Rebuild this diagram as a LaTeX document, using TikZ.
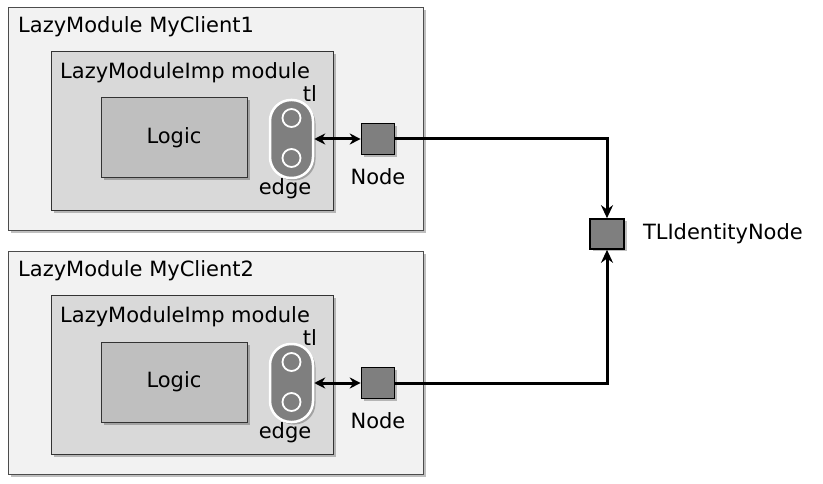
\documentclass[tikz,border=0pt]{standalone}
\usepackage{fontspec}
\setmainfont{DejaVu Sans}
\usepackage{tikz}
\usetikzlibrary{arrows.meta, positioning, shadows}
\definecolor{tlouter}{HTML}{F2F2F2}
\definecolor{tlinner}{HTML}{D9D9D9}
\definecolor{tllogic}{HTML}{BFBFBF}
\definecolor{tlnode}{HTML}{7F7F7F}

\begin{document}
\begin{tikzpicture}[
  x=1pt, y=-1pt,
  every node/.style={font=\fontsize{21pt}{24pt}\selectfont, inner sep=0pt},
  shade/.style={drop shadow={shadow xshift=2.5pt, shadow yshift=-2.5pt,
                fill=black, opacity=0.25}},
  outerbox/.style={draw=black!70, fill=tlouter, shade, anchor=north west,
                   line width=1pt},
  innerbox/.style={draw=black!80, fill=tlinner, shade, anchor=north west,
                   line width=1pt},
  logicbox/.style={draw=black!80, fill=tllogic, shade, line width=1pt,
                   minimum width=146pt, minimum height=80pt},
  pill/.style={draw=white, fill=tlnode, line width=2.5pt, rounded corners=21pt,
               minimum width=43pt, minimum height=78pt, shade},
  port/.style={circle, draw=white, fill=tlnode, line width=1.8pt,
               minimum size=18pt},
  tlnode/.style={draw=black, fill=tlnode, line width=1.6pt, shade,
                 minimum width=33pt, minimum height=31pt},
  biarrow/.style={{Stealth[length=11pt,width=11pt]}-{Stealth[length=11pt,width=11pt]},
                  line width=3pt},
  conn/.style={-{Stealth[length=13pt,width=12pt]}, line width=3pt}
]
\useasboundingbox (0,0) rectangle (823,484);

% Client 1
\node[outerbox, minimum width=415pt, minimum height=223pt] (client1) at (8,7) {};
\node[anchor=west] (client1-title) at (18,27) {LazyModule MyClient1};
\node[innerbox, minimum width=282pt, minimum height=159pt] (imp1) at (51,51) {};
\node[anchor=west] (imp1-title) at (60,73) {LazyModuleImp module};
\node[logicbox] (logic1) at (174,138) {Logic};
\node[pill] (edge1) at (291.5,139) {};
\node[port] (edge1-a) at (291.5,118) {};
\node[port] (edge1-b) at (291.5,158) {};
\node (edge1-tl) at (310,94) {tl};
\node (edge1-label) at (285,189) {edge};
\node[tlnode] (node1) at (378,139) {};
\node[below=13pt of node1] (node1-label) {Node};

% Client 2
\node[outerbox, minimum width=415pt, minimum height=223pt] (client2) at (8,251) {};
\node[anchor=west] (client2-title) at (18,271) {LazyModule MyClient2};
\node[innerbox, minimum width=282pt, minimum height=159pt] (imp2) at (51,295) {};
\node[anchor=west] (imp2-title) at (60,317) {LazyModuleImp module};
\node[logicbox] (logic2) at (174,382) {Logic};
\node[pill] (edge2) at (291.5,383) {};
\node[port] (edge2-a) at (291.5,362) {};
\node[port] (edge2-b) at (291.5,402) {};
\node (edge2-tl) at (310,338) {tl};
\node (edge2-label) at (285,433) {edge};
\node[tlnode] (node2) at (378,383) {};
\node[below=13pt of node2] (node2-label) {Node};

% Identity node
\node[tlnode, minimum width=34pt, minimum height=30pt] (tlid) at (607,234) {};
\node[right=18pt of tlid] (tlid-label) {TLIdentityNode};

% Connections
\draw[biarrow] (edge1.east) -- (node1.west);
\draw[biarrow] (edge2.east) -- (node2.west);
\draw[conn] (node1.east) -| (tlid.north);
\draw[conn] (node2.east) -| (tlid.south);

\end{tikzpicture}
\end{document}
